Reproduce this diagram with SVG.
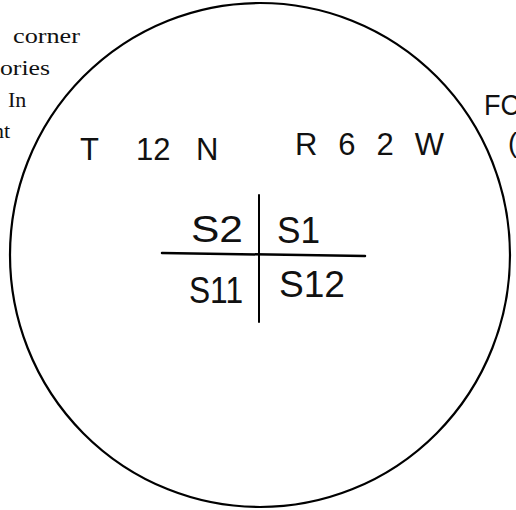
<svg xmlns="http://www.w3.org/2000/svg" width="516" height="510" viewBox="0 0 516 510">
<style>
.serif{font-family:"Liberation Serif","Times New Roman",serif;font-size:22px;fill:#111}
.hand{font-family:"Liberation Sans",Arial,sans-serif;fill:#111}
.line{stroke:#000;fill:none;stroke-linecap:round}
</style>
<rect width="516" height="510" fill="#fff"/>
<g id="margin-text">
<text class="serif" x="13" y="43" textLength="67" lengthAdjust="spacingAndGlyphs">corner</text>
<text class="serif" x="0" y="75" textLength="50" lengthAdjust="spacingAndGlyphs">ories</text>
<text class="serif" x="8" y="107">In</text>
<text class="serif" x="-7" y="138">nt</text>
</g>
<g id="township-circle">
<ellipse class="line" cx="260" cy="255" rx="250" ry="252" stroke-width="2.2"/>
</g>
<g id="township-label">
<text class="hand" font-size="31" y="160"><tspan x="80">T </tspan><tspan x="136">12 </tspan><tspan x="196">N</tspan></text>
</g>
<g id="range-label">
<text class="hand" font-size="31" x="295" y="155" textLength="149" lengthAdjust="spacing">R62W</text>
</g>
<g id="right-text">
<text class="hand" font-size="30" x="484" y="115" textLength="36" lengthAdjust="spacingAndGlyphs">FC</text>
<text class="hand" font-size="28" x="508" y="152">(</text>
</g>
<g id="section-grid">
<line class="line" x1="259" y1="195" x2="259" y2="322" stroke-width="2"/>
<line class="line" x1="162" y1="253" x2="365" y2="256" stroke-width="2.5"/>
</g>
<g id="section-s2"><text class="hand" font-size="36" x="191" y="242" textLength="52" lengthAdjust="spacingAndGlyphs">S2</text></g>
<g id="section-s1"><text class="hand" font-size="36" x="277" y="243" textLength="43" lengthAdjust="spacingAndGlyphs">S1</text></g>
<g id="section-s11"><text class="hand" font-size="36" x="189" y="303" textLength="54" lengthAdjust="spacingAndGlyphs">S11</text></g>
<g id="section-s12"><text class="hand" font-size="36" x="279" y="297" textLength="66" lengthAdjust="spacingAndGlyphs">S12</text></g>
</svg>
